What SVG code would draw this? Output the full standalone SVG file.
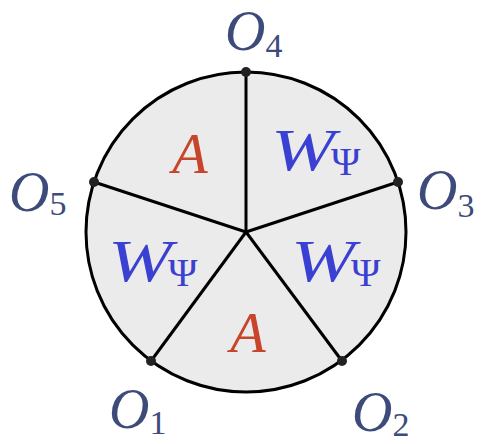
<svg xmlns="http://www.w3.org/2000/svg" width="490" height="444" viewBox="0 0 490 444">
<style>
.o{font-family:"Liberation Serif","DejaVu Serif",serif;font-style:italic;font-size:56px;fill:#3d4b7a}
.sub{font-family:"Liberation Serif","DejaVu Serif",serif;font-style:normal;font-size:34px;fill:#3d4b7a}
.a{font-family:"Liberation Serif","DejaVu Serif",serif;font-style:italic;font-size:58px;fill:#c8452b}
.w{font-family:"Liberation Serif","DejaVu Serif",serif;font-style:italic;font-size:60px;fill:#3a40d2}
.ws{font-family:"Liberation Serif","DejaVu Serif",serif;font-style:normal;font-size:40px;fill:#3a40d2}
.ln{stroke:#000;stroke-width:3;fill:none}
</style>
<g id="disk">
<circle cx="246" cy="232" r="160" fill="#ebebeb" stroke="#000" stroke-width="3"/>
</g>
<g id="connectors">
<line class="ln" x1="246" y1="232" x2="246" y2="72"/>
<line class="ln" x1="246" y1="232" x2="398" y2="182"/>
<line class="ln" x1="246" y1="232" x2="342" y2="361"/>
<line class="ln" x1="246" y1="232" x2="151" y2="361"/>
<line class="ln" x1="246" y1="232" x2="94" y2="182"/>
</g>
<g id="points" fill="#222">
<circle cx="246" cy="72" r="5"/>
<circle cx="398" cy="182" r="5"/>
<circle cx="342" cy="361" r="5"/>
<circle cx="151" cy="361" r="5"/>
<circle cx="94" cy="182" r="5"/>
</g>
<g id="region-a-top"><text class="a" x="190" y="173" text-anchor="middle">A</text></g>
<g id="region-w-top"><text class="w" x="271" y="170" textLength="64" lengthAdjust="spacingAndGlyphs">W</text><text class="ws" x="331" y="175">Ψ</text></g>
<g id="region-w-left"><text class="w" x="108" y="281" textLength="64" lengthAdjust="spacingAndGlyphs">W</text><text class="ws" x="168" y="286">Ψ</text></g>
<g id="region-w-right"><text class="w" x="291" y="281" textLength="64" lengthAdjust="spacingAndGlyphs">W</text><text class="ws" x="351" y="286">Ψ</text></g>
<g id="region-a-bottom"><text class="a" x="248" y="352" text-anchor="middle">A</text></g>
<g id="O4"><text x="225" y="50"><tspan class="o">O</tspan><tspan class="sub" dy="7">4</tspan></text></g>
<g id="O3"><text x="417" y="209"><tspan class="o">O</tspan><tspan class="sub" dy="8">3</tspan></text></g>
<g id="O5"><text x="9" y="211"><tspan class="o">O</tspan><tspan class="sub" dy="4">5</tspan></text></g>
<g id="O1"><text x="109" y="428"><tspan class="o">O</tspan><tspan class="sub" dy="6">1</tspan></text></g>
<g id="O2"><text x="352" y="431"><tspan class="o">O</tspan><tspan class="sub" dy="5">2</tspan></text></g>
</svg>
